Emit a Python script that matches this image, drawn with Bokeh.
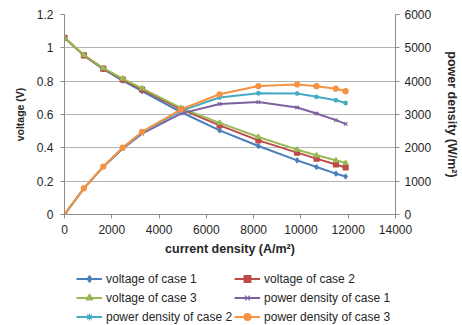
from bokeh.plotting import figure
from bokeh.models import Range1d, LinearAxis, FixedTicker, Legend, LegendItem
from bokeh.layouts import column
from bokeh.embed import file_html
from bokeh.resources import INLINE

# ---- data ----
current = [0, 820, 1640, 2460, 3280, 4920, 6560, 8200, 9840, 10660, 11480, 11890]

voltage_case1 = [1.06, 0.955, 0.872, 0.803, 0.740, 0.615, 0.505, 0.411, 0.325, 0.285, 0.245, 0.228]
voltage_case2 = [1.06, 0.955, 0.875, 0.810, 0.750, 0.632, 0.535, 0.445, 0.371, 0.335, 0.300, 0.282]
voltage_case3 = [1.06, 0.957, 0.878, 0.815, 0.757, 0.640, 0.550, 0.465, 0.389, 0.355, 0.325, 0.309]

power_case1 = [0, 783, 1430, 1975, 2427, 3026, 3313, 3372, 3210, 3030, 2830, 2720]
power_case2 = [0, 783, 1435, 1993, 2460, 3109, 3510, 3640, 3630, 3530, 3430, 3345]
power_case3 = [0, 785, 1440, 2005, 2483, 3149, 3608, 3853, 3900, 3850, 3775, 3700]

x_ticks = [0, 2000, 4000, 6000, 8000, 10000, 12000, 14000]
y_ticks = [0, 0.2, 0.4, 0.6, 0.8, 1.0, 1.2]
y_tick_labels = ["0", "0.2", "0.4", "0.6", "0.8", "1", "1.2"]
p_ticks = [0, 1000, 2000, 3000, 4000, 5000, 6000]

series_labels = ["voltage of case 1", "voltage of case 2", "voltage of case 3",
                 "power density of case 1", "power density of case 2", "power density of case 3"]

# ---- styling ----
FONT = "Liberation Sans"
colors = ["#4A7EBB", "#BE4B48", "#98B954", "#7D60A0", "#46AAC5", "#F69240"]
markers = ["diamond", "square", "triangle", "x", "asterisk", "circle"]
TXT = "#262626"
AX = "#8c8c8c"
W = 462

p = figure(width=W, height=262, output_backend="svg", toolbar_location=None,
           x_range=Range1d(0, 14000), y_range=Range1d(0, 1.2),
           min_border_left=64, min_border_right=62, min_border_top=14, min_border_bottom=48)
p.extra_y_ranges = {"power": Range1d(0, 6000)}
p.outline_line_color = None
p.background_fill_color = "white"
p.border_fill_color = "white"

p.xgrid.visible = False
p.ygrid.ticker = FixedTicker(ticks=y_ticks)
p.ygrid.grid_line_color = "#b4b4b4"
p.ygrid.grid_line_width = 1

xa = p.xaxis[0]
xa.ticker = FixedTicker(ticks=x_ticks)
xa.axis_label = "current density (A/m\u00b2)"
ya = p.yaxis[0]
ya.ticker = FixedTicker(ticks=y_ticks)
ya.major_label_overrides = {t: l for t, l in zip(y_ticks, y_tick_labels)}
ya.axis_label = "voltage (V)"

ra = LinearAxis(y_range_name="power", ticker=FixedTicker(ticks=p_ticks),
                axis_label="power density (W/m\u00b2)")
p.add_layout(ra, "right")

for ax in (xa, ya, ra):
    ax.axis_line_color = AX
    ax.major_tick_line_color = AX
    ax.minor_tick_line_color = None
    ax.major_tick_in = 0
    ax.major_tick_out = 4
    ax.major_label_text_font = FONT
    ax.major_label_text_font_size = "12px"
    ax.major_label_text_color = TXT
    ax.axis_label_text_font = FONT
    ax.axis_label_text_font_style = "bold"
    ax.axis_label_text_color = TXT
xa.major_label_standoff = 6
xa.axis_label_standoff = 5
xa.axis_label_text_font_size = "12.5px"
ya.major_label_standoff = 7
ya.axis_label_standoff = 8
ya.axis_label_text_font_size = "10.5px"
ra.major_label_standoff = 5
ra.axis_label_standoff = 11
ra.axis_label_text_font_size = "12.5px"

volt = [voltage_case1, voltage_case2, voltage_case3]
powr = [power_case1, power_case2, power_case3]
for i in range(6):
    if i < 3:
        ys, kw = volt[i], {}
    else:
        ys, kw = powr[i - 3], {"y_range_name": "power"}
    p.line(current, ys, line_color=colors[i], line_width=2, **kw)
    p.scatter(current, ys, marker=markers[i], size=5, fill_color=colors[i],
              line_color=colors[i], line_width=1.2, **kw)

# ---- legend strip under the chart (proxy glyphs lie outside its ranges) ----
lg = figure(width=W, height=63, output_backend="svg", toolbar_location=None,
            x_range=Range1d(0, 1), y_range=Range1d(0, 1),
            x_axis_type=None, y_axis_type=None,
            min_border_left=64, min_border_right=62, min_border_top=0, min_border_bottom=0)
lg.outline_line_color = None
lg.grid.visible = False
lg.background_fill_color = "white"
lg.border_fill_color = "white"

items = []
for i in range(6):
    ln = lg.line([5, 6], [5, 6], line_color=colors[i], line_width=2)
    sc = lg.scatter([5], [5], marker=markers[i], size=5, fill_color=colors[i],
                    line_color=colors[i], line_width=1.2)
    items.append(LegendItem(label=series_labels[i], renderers=[ln, sc], index=0))

legend = Legend(items=items, orientation="horizontal", ncols=2, location=(12, 0),
                label_text_font=FONT, label_text_font_size="12px", label_text_color=TXT,
                glyph_width=26, glyph_height=17, label_height=17, label_standoff=4,
                spacing=2, padding=0, margin=0, border_line_color=None,
                background_fill_alpha=0)
lg.add_layout(legend, "center")

layout = column(p, lg, spacing=0)
open("out.html", "w").write(file_html(layout, INLINE))
